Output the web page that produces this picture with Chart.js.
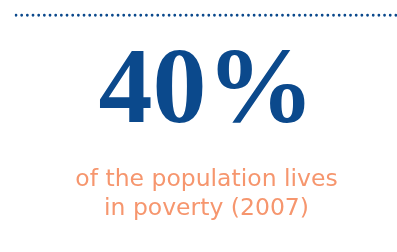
<!DOCTYPE html>
<html>
<head>
<meta charset="utf-8">
<script src="https://cdn.jsdelivr.net/npm/chart.js@4/dist/chart.umd.min.js"></script>
<style>
  html, body { margin: 0; padding: 0; background: #ffffff; }
  #wrap { width: 397px; height: 252px; }
</style>
</head>
<body>
<div id="wrap"><canvas id="povertyChart" width="397" height="252"></canvas></div>
<script>
// figures shown on the card
const shareValues = [40];
const shareYears = ['2007'];
const captionLines = ['of the population lives', 'in poverty (' + shareYears[0] + ')'];

// dotted rule along the top
const ruleLabels = ['start', 'end'];
const ruleValues = [0, 0];

const blue = '#0b498c';
const orange = '#f6966e';

const ctx = document.getElementById('povertyChart');

new Chart(ctx, {
  type: 'line',
  data: {
    labels: ruleLabels,
    datasets: [
      {
        label: 'rule',
        data: ruleValues,
        borderColor: blue,
        borderWidth: 2.8,
        borderCapStyle: 'round',
        borderDash: [0, 5.67],
        pointRadius: 0,
        fill: false
      }
    ]
  },
  options: {
    responsive: false,
    animation: false,
    events: [],
    layout: {
      padding: { top: 6, bottom: 28.5, left: 16, right: 0 }
    },
    plugins: {
      legend: { display: false },
      tooltip: { enabled: false },
      title: {
        display: true,
        position: 'bottom',
        weight: 1000,
        text: shareValues[0] + '%',
        color: blue,
        font: { family: '"Liberation Serif", serif', size: 108, weight: 'bold', lineHeight: 1 },
        padding: { top: 16, bottom: 0 }
      },
      subtitle: {
        display: true,
        position: 'bottom',
        weight: 1500,
        text: captionLines,
        color: orange,
        font: { family: '"DejaVu Sans", sans-serif', size: 23.5, weight: 'normal', lineHeight: 29 / 23.5 },
        padding: { top: 17, bottom: 0 }
      }
    },
    scales: {
      x: { display: false, offset: false },
      y: { display: false, min: -1, max: 1 }
    }
  }
});
</script>
</body>
</html>
